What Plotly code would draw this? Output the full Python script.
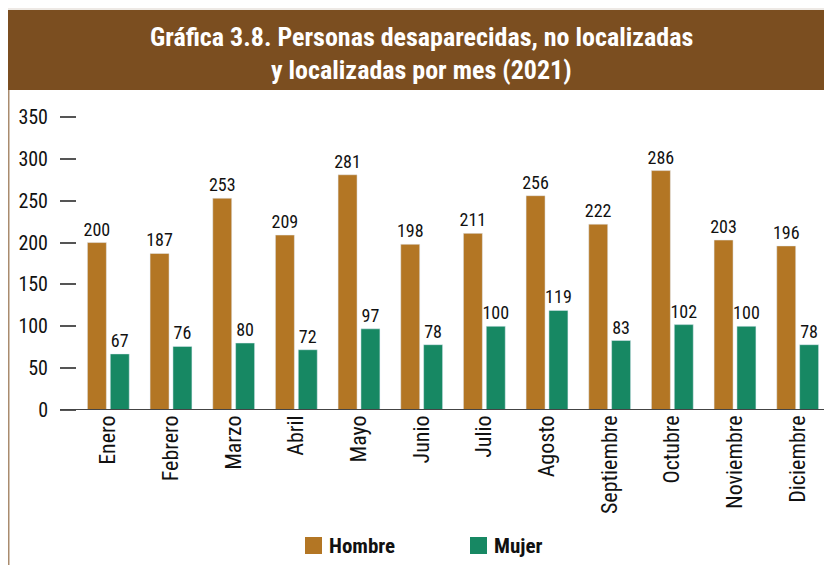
import plotly.graph_objects as go

meses = ["Enero", "Febrero", "Marzo", "Abril", "Mayo", "Junio", "Julio",
         "Agosto", "Septiembre", "Octubre", "Noviembre", "Diciembre"]
hombre = [200, 187, 253, 209, 281, 198, 211, 256, 222, 286, 203, 196]
mujer = [67, 76, 80, 72, 97, 78, 100, 119, 83, 102, 100, 78]
y_ticks = [0, 50, 100, 150, 200, 250, 300, 350]

C_H = "#B37624"
C_M = "#178863"
C_TITLE = "#7B4E20"
FONT = "Roboto Condensed, Liberation Sans, sans-serif"

# page body has an 8px margin: figure origin sits at (8, 8) of the window
OFF = 8
W, H = 832 - OFF, 565 - OFF
L, R, T, B = 77 - OFF, 3, 117 - OFF, 565 - 410
PW = W - L - R
PH = H - T - B


def px(x):  # window pixel -> paper x
    return (x - OFF - L) / PW


def py(y):  # window pixel -> paper y
    return (H - B - (y - OFF)) / PH


fig = go.Figure()
fig.add_trace(go.Bar(x=meses, y=hombre, name="Hombre", marker_color=C_H,
                     text=hombre, textposition="outside", cliponaxis=False,
                     constraintext="none",
                     textfont=dict(size=18, color="#111", family=FONT)))
fig.add_trace(go.Bar(x=meses, y=mujer, name="Mujer", marker_color=C_M,
                     text=mujer, textposition="outside", cliponaxis=False,
                     constraintext="none",
                     textfont=dict(size=18, color="#111", family=FONT)))

shapes = [
    # faint top rule
    dict(type="line", xref="paper", yref="paper", x0=px(8), x1=px(840),
         y0=py(9), y1=py(9), line=dict(color="#DCD3CA", width=1)),
    # title bar
    dict(type="rect", xref="paper", yref="paper", x0=px(7), x1=px(840),
         y0=py(90), y1=py(10), fillcolor=C_TITLE, line=dict(width=0), layer="below"),
    # left border
    dict(type="line", xref="paper", yref="paper", x0=px(8.5), x1=px(8.5),
         y0=py(90), y1=py(570), line=dict(color="#A98B6E", width=2)),
    # baseline
    dict(type="line", xref="paper", yref="y", x0=px(60), x1=px(829), y0=0, y1=0,
         line=dict(color="#444444", width=2)),
    # legend swatches
    dict(type="rect", xref="paper", yref="paper", x0=px(305), x1=px(322),
         y0=py(554), y1=py(537), fillcolor=C_H, line=dict(width=0)),
    dict(type="rect", xref="paper", yref="paper", x0=px(470), x1=px(487),
         y0=py(554), y1=py(537), fillcolor=C_M, line=dict(width=0)),
]

annotations = [
    dict(text="Gráfica 3.8. Personas desaparecidas, no localizadas", xref="paper",
         yref="paper", x=px(421), y=py(37), xanchor="center", yanchor="middle",
         showarrow=False, font=dict(size=26, color="white", family=FONT, weight="bold")),
    dict(text="y localizadas por mes (2021)", xref="paper",
         yref="paper", x=px(421), y=py(70), xanchor="center", yanchor="middle",
         showarrow=False, font=dict(size=26, color="white", family=FONT, weight="bold")),
    dict(text="Hombre", xref="paper", yref="paper", x=px(327), y=py(546),
         xanchor="left", yanchor="middle", showarrow=False,
         font=dict(size=21, color="#111", family=FONT, weight="bold")),
    dict(text="Mujer", xref="paper", yref="paper", x=px(492), y=py(546),
         xanchor="left", yanchor="middle", showarrow=False,
         font=dict(size=21, color="#111", family=FONT, weight="bold")),
]

fig.update_layout(
    width=W, height=H,
    margin=dict(l=L, r=R, t=T, b=B, pad=0),
    plot_bgcolor="white", paper_bgcolor="white",
    barmode="group", bargap=0.27, bargroupgap=0.17,
    showlegend=False,
    shapes=shapes, annotations=annotations,
    font=dict(family=FONT, color="#111"),
    xaxis=dict(showline=False, showgrid=False, zeroline=False, ticks="",
               tickangle=-90, tickfont=dict(size=22, family=FONT, color="#111")),
    yaxis=dict(range=[0, 350], tickvals=y_ticks, showline=False, showgrid=False,
               zeroline=False, ticks="outside", ticklen=16, tickwidth=2,
               tickcolor="#555555", ticklabelstandoff=8,
               tickfont=dict(size=20, family=FONT, color="#111")),
)

fig.write_html("out.html")
